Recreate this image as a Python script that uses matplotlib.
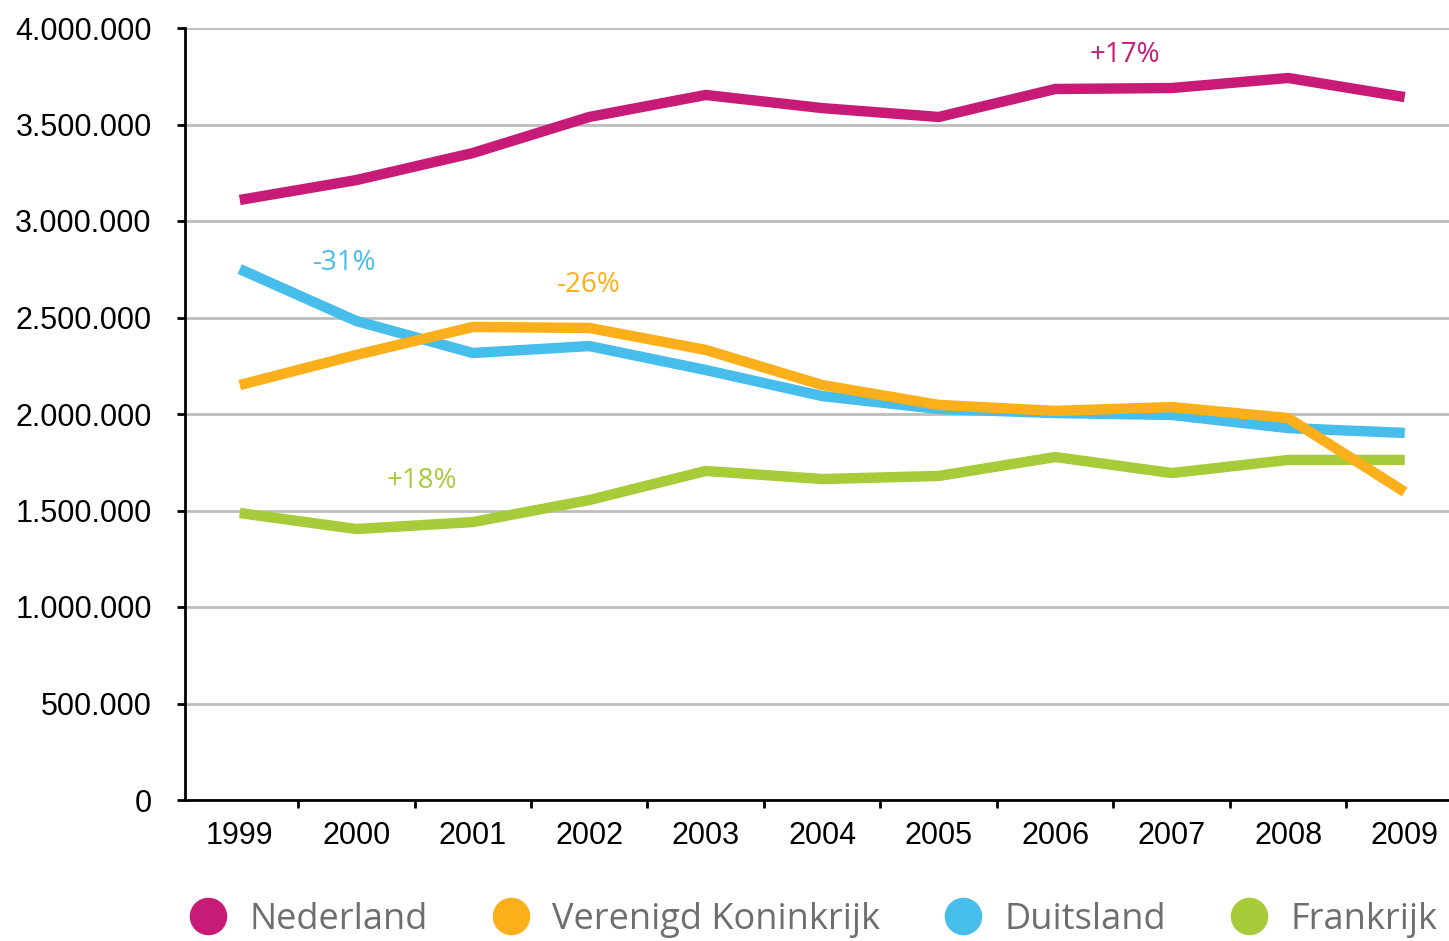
import matplotlib
matplotlib.use("Agg")
import matplotlib.pyplot as plt
from matplotlib.ticker import FuncFormatter, FixedLocator

jaren = ['1999', '2000', '2001', '2002', '2003', '2004', '2005', '2006', '2007', '2008', '2009']
nederland = [3109000, 3212000, 3352000, 3539000, 3653000, 3585000, 3539000, 3684000, 3689000, 3741000, 3642000]
verenigd_koninkrijk = [2150000, 2306000, 2451000, 2446000, 2332000, 2150000, 2047000, 2016000, 2036000, 1979000, 1596000]
duitsland = [2751000, 2482000, 2316000, 2352000, 2228000, 2093000, 2026000, 2005000, 1995000, 1927000, 1902000]
frankrijk = [1487000, 1404000, 1440000, 1554000, 1705000, 1663000, 1679000, 1777000, 1694000, 1762000, 1762000]

namen = ['Nederland', 'Verenigd Koninkrijk', 'Duitsland', 'Frankrijk']
kleuren = ['#C71B77', '#FBAF1A', '#46BDEA', '#A8CB3A']
labels_pct = ['+17%', '-26%', '-31%', '+18%']

fig = plt.figure(figsize=(14.49, 9.41), dpi=100)
ax = fig.add_axes([185/1449, 1-800/941, 1-185/1449, (800-28)/941])

x = list(range(len(jaren)))
reeksen = [nederland, verenigd_koninkrijk, duitsland, frankrijk]
for reeks, naam, kleur in zip(reeksen[::-1], namen[::-1], kleuren[::-1]):
    ax.plot(x, reeks, color=kleur, lw=7.5, solid_capstyle='butt', label=naam)

# percentages bij de lijnen
pct_font = dict(fontsize=20, family='Open Sans', ha='center', va='center')
ax.text(7.6, 3860000, labels_pct[0], color=kleuren[0], **pct_font)
ax.text(3.0, 2670000, labels_pct[1], color=kleuren[1], **pct_font)
ax.text(0.9, 2780000, labels_pct[2], color=kleuren[2], **pct_font)
ax.text(1.56, 1655000, labels_pct[3], color=kleuren[3], **pct_font)

ax.set_xlim(-0.47, 10.38)
ax.set_ylim(0, 4000000)
ax.set_yticks(range(0, 4000001, 500000))
ax.yaxis.set_major_formatter(FuncFormatter(lambda v, p: f"{int(v):,}".replace(',', '.')))
ax.yaxis.grid(True, color='#BDBDBD', lw=2)
ax.set_axisbelow(True)

ax.set_xticks(x)
ax.set_xticklabels(jaren)
ax.xaxis.set_minor_locator(FixedLocator([i - 0.5 for i in range(11)]))
ax.tick_params(axis='x', which='major', length=0, pad=15)
ax.tick_params(axis='x', which='minor', length=6, width=2, direction='out')
ax.tick_params(axis='y', length=6, width=2, pad=18)
ax.tick_params(labelsize=22)
for lbl in ax.get_xticklabels() + ax.get_yticklabels():
    lbl.set_family('Liberation Sans')

for s in ['top', 'right']:
    ax.spines[s].set_visible(False)
ax.spines['left'].set_linewidth(2)
ax.spines['bottom'].set_linewidth(2)

handles = [plt.Line2D([], [], marker='o', ls='', color=k, markersize=26) for k in kleuren]
leg = fig.legend(handles, namen, loc='center left', bbox_to_anchor=(157/1449, 1-920/941), ncol=4,
                 frameon=False, handletextpad=0.15, columnspacing=1.3, borderaxespad=0,
                 prop={'family': 'Open Sans', 'size': 26})
for t in leg.get_texts():
    t.set_color('#6D6E70')

fig.savefig('out.png', dpi=100)
